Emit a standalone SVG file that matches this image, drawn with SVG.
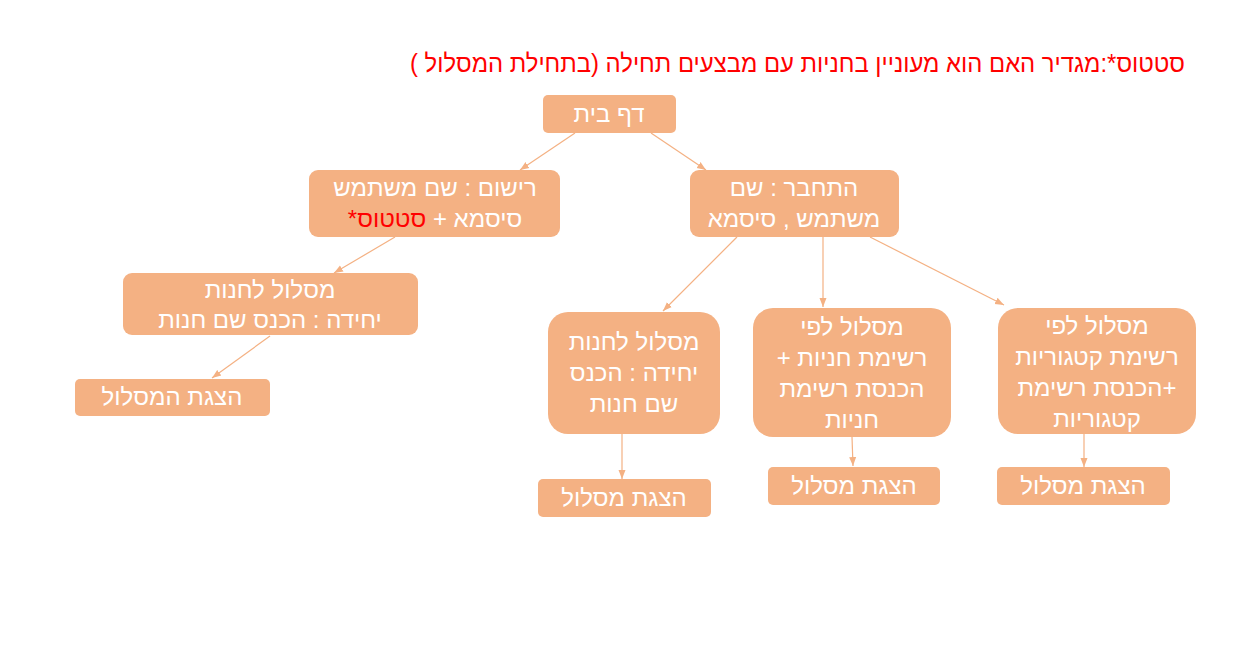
<svg xmlns="http://www.w3.org/2000/svg" width="1251" height="659" viewBox="0 0 1251 659">
<style>
.node rect{fill:#F4B183;}
.node text{font-family:"Liberation Sans",Arial,"DejaVu Sans",sans-serif;font-size:24px;fill:#FFFFFF;text-anchor:middle;direction:rtl;}
.red{fill:#FF0000;}
.title{font-family:"Liberation Sans",Arial,"DejaVu Sans",sans-serif;font-size:25px;fill:#FF0000;direction:rtl;text-anchor:start;}
.conn line{stroke:#F4B183;stroke-width:1.2;fill:none;marker-end:url(#ah);}
</style>
<defs>
<marker id="ah" markerUnits="userSpaceOnUse" markerWidth="9" markerHeight="9" viewBox="0 0 9 9" refX="9" refY="4.5" orient="auto">
<path d="M0,1 L9,4.5 L0,8 Z" fill="#F4B183"/>
</marker>
</defs>
<rect width="1251" height="659" fill="#FFFFFF"/>
<text class="title" x="1185" y="72" textLength="775" lengthAdjust="spacingAndGlyphs">סטטוס*:מגדיר האם הוא מעוניין בחניות עם מבצעים תחילה (בתחילת המסלול )</text>
<g class="conn">
<line x1="575" y1="133" x2="520" y2="170"/>
<line x1="651" y1="133" x2="706" y2="170"/>
<line x1="395" y1="237" x2="334" y2="273"/>
<line x1="270" y1="336" x2="212" y2="378"/>
<line x1="737" y1="237" x2="663" y2="311"/>
<line x1="823" y1="237" x2="823" y2="307"/>
<line x1="870" y1="237" x2="1004" y2="305"/>
<line x1="622" y1="434" x2="622" y2="479"/>
<line x1="852" y1="437" x2="853" y2="466"/>
<line x1="1084" y1="434" x2="1084" y2="467"/>
</g>
<g id="n1" class="node"><rect x="543" y="95" width="133" height="38" rx="5"/><text x="609" y="122">דף בית</text></g>
<g id="n2" class="node"><rect x="309" y="170" width="251" height="67" rx="9"/><text x="435" y="196">רישום : שם משתמש</text><text x="435" y="227">סיסמא + <tspan class="red">סטטוס*</tspan></text></g>
<g id="n3" class="node"><rect x="690" y="170" width="209" height="67" rx="9"/><text x="794" y="196">התחבר : שם</text><text x="794" y="227">משתמש , סיסמא</text></g>
<g id="n4" class="node"><rect x="123" y="273" width="295" height="62" rx="9"/><text x="270" y="298">מסלול לחנות</text><text x="270" y="328">יחידה : הכנס שם חנות</text></g>
<g id="n5" class="node"><rect x="75" y="379" width="195" height="37" rx="5"/><text x="172" y="405">הצגת המסלול</text></g>
<g id="n6" class="node"><rect x="548" y="312" width="172" height="122" rx="20"/><text x="634" y="350">מסלול לחנות</text><text x="634" y="381">יחידה : הכנס</text><text x="634" y="412">שם חנות</text></g>
<g id="n7" class="node"><rect x="753" y="308" width="198" height="129" rx="20"/><text x="852" y="335">מסלול לפי</text><text x="852" y="366">רשימת חניות +</text><text x="852" y="397">הכנסת רשימת</text><text x="852" y="428">חניות</text></g>
<g id="n8" class="node"><rect x="998" y="308" width="198" height="126" rx="20"/><text x="1097" y="334">מסלול לפי</text><text x="1097" y="365">רשימת קטגוריות</text><text x="1097" y="396">+הכנסת רשימת</text><text x="1097" y="427">קטגוריות</text></g>
<g id="n9" class="node"><rect x="538" y="479" width="173" height="38" rx="5"/><text x="624" y="506">הצגת מסלול</text></g>
<g id="n10" class="node"><rect x="768" y="467" width="172" height="38" rx="5"/><text x="854" y="494">הצגת מסלול</text></g>
<g id="n11" class="node"><rect x="997" y="467" width="173" height="38" rx="5"/><text x="1083" y="494">הצגת מסלול</text></g>
</svg>
